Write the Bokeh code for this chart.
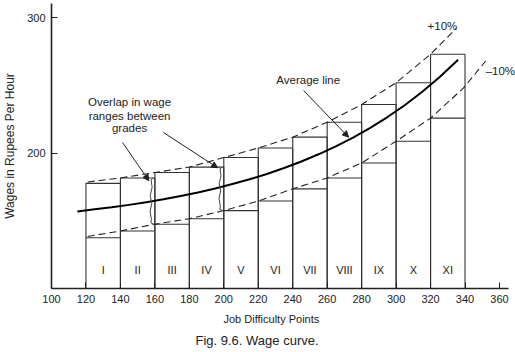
from bokeh.plotting import figure
from bokeh.models import Range1d, FixedTicker, Arrow, NormalHead, Title, Label
from bokeh.core.properties import value
from bokeh.embed import file_html
from bokeh.resources import INLINE

# ---- data ----
grades = ["I", "II", "III", "IV", "V", "VI", "VII", "VIII", "IX", "X", "XI"]
grade_left = [120, 140, 160, 180, 200, 220, 240, 260, 280, 300, 320]
grade_right = [140, 160, 180, 200, 220, 240, 260, 280, 300, 320, 340]
grade_max = [178, 182, 186, 190, 197, 204, 212, 223, 236, 252, 273]
grade_min = [138, 143, 148, 152, 158, 165, 174, 182, 193, 209, 226]

avg_x = [115, 125, 135, 145, 155, 165, 175, 185, 195, 205, 215, 225,
         235, 245, 255, 265, 275, 285, 295, 305, 315, 325, 336]
avg_y = [157.4, 158.9, 160.4, 162.2, 164.2, 166.3, 168.7, 171.3, 174.2, 177.5, 181.0, 184.9,
         189.3, 194.1, 199.4, 205.2, 211.7, 218.9, 226.8, 235.5, 245.2, 255.9, 269.0]

upper_x = [121, 140, 160, 180, 200, 220, 240, 260, 280, 300, 320, 335]
upper_y = [179, 182, 186, 190, 197, 204, 212, 223, 236, 252, 273, 292]

lower_x = [121, 140, 160, 180, 200, 220, 240, 260, 280, 300, 320, 339, 352]
lower_y = [139, 143, 148, 152, 158, 165, 174, 182, 193, 209, 226, 248, 268]

x_ticks = [100, 120, 140, 160, 180, 200, 220, 240, 260, 280, 300, 320, 340, 360]
y_ticks = [200, 300]

# overlap braces: between grade II/III and grade IV/V
brace_pairs = [(1, 2), (3, 4)]
brace_t = [0.0, 0.04, 0.2, 0.38, 0.55, 0.72, 0.9, 0.97, 1.0]
brace_dx = [1.6, 0.3, 0.9, -0.2, 0.7, -0.3, 0.5, 0.2, 1.8]

FONT = value("Liberation Sans")
INK = "#222222"

p = figure(frame_width=469, frame_height=285,
           x_range=Range1d(100, 372.2), y_range=Range1d(100.7, 310.3),
           output_backend="svg", toolbar_location=None,
           min_border_left=46, min_border_right=0,
           min_border_top=3, min_border_bottom=64)
p.outline_line_color = None
p.xgrid.visible = False
p.ygrid.visible = False
p.background_fill_color = "white"
p.border_fill_color = "white"

for ax in (p.xaxis[0], p.yaxis[0]):
    ax.axis_line_color = INK
    ax.axis_line_width = 1.6
    ax.major_tick_line_color = INK
    ax.major_tick_in = 6
    ax.major_tick_out = 0
    ax.minor_tick_line_color = None
    ax.major_label_text_font = "Liberation Sans"
    ax.major_label_text_font_size = "11px"
    ax.major_label_text_color = INK
    ax.axis_label_text_font = "Liberation Sans"
    ax.axis_label_text_font_style = "normal"
    ax.axis_label_text_color = INK

p.xaxis.bounds = (100, 365.2)
p.xaxis.ticker = FixedTicker(ticks=x_ticks)
p.yaxis.ticker = FixedTicker(ticks=y_ticks)
p.xaxis.major_label_standoff = 6
p.yaxis.axis_label = "Wages in Rupees Per Hour"
p.yaxis.axis_label_text_font_size = "12px"
p.yaxis.axis_label_standoff = 7
p.yaxis.major_label_standoff = 6

# grade boxes
p.quad(left=grade_left, right=grade_right, bottom=[100] * len(grades), top=grade_max,
       fill_color=None, line_color="#333333", line_width=1.1)
p.segment(x0=grade_left, x1=grade_right, y0=grade_min, y1=grade_min,
          line_color="#333333", line_width=1.1)

# +/-10% dashed lines and average line
p.line(upper_x, upper_y, line_color=INK, line_width=1.1, line_dash="7 4")
p.line(lower_x, lower_y, line_color=INK, line_width=1.1, line_dash="7 4")
p.line(avg_x, avg_y, line_color="black", line_width=2.0, line_join="round")

# overlap braces
for a, b in brace_pairs:
    top = grade_max[a]
    bot = grade_min[b]
    x0 = grade_right[a] - 2.5
    xs = [x0 + d for d in brace_dx]
    ys = [top - t * (top - bot) for t in brace_t]
    p.line(xs, ys, line_color="#444444", line_width=1)

# grade labels
p.text(x=[(l + r) / 2 for l, r in zip(grade_left, grade_right)], y=[114] * len(grades),
       text=grades, text_font=FONT, text_font_size=value("11px"),
       text_align="center", text_baseline="middle", text_color=INK)

# annotations
overlap_lines = ["Overlap in wage", "ranges between", "grades"]
p.text(x=[145.3] * 3, y=[237.5, 227.2, 218.4], text=overlap_lines, text_font=FONT,
       text_font_size=value("11.5px"), text_align="center", text_baseline="middle",
       text_color=INK)
p.text(x=[249.0], y=[253.7], text=["Average line"], text_font=FONT,
       text_font_size=value("11.5px"), text_align="center", text_baseline="middle",
       text_color=INK)
for lx, ly, lt in [(326.9, 294.1, "+10%"), (360.5, 261.0, "\u201310%")]:
    p.add_layout(Label(x=lx, y=ly, text=lt, text_font="Liberation Sans",
                       text_font_size="11.5px", text_align="center",
                       text_baseline="middle", text_color=INK))

for xs, ys, xe, ye in [(141.2, 208.1, 156.5, 180.0), (165.0, 215.4, 196.4, 189.5),
                       (246.3, 246.3, 272.4, 212.0)]:
    p.add_layout(Arrow(end=NormalHead(size=6, fill_color=INK, line_color=INK),
                       x_start=xs, y_start=ys, x_end=xe, y_end=ye,
                       line_color=INK, line_width=1))

xlabel = Title(text="Job Difficulty Points", align="left", offset=172, standoff=11,
               text_font="Liberation Sans", text_font_size="11px",
               text_font_style="normal", text_color=INK, text_line_height=1.0)
p.add_layout(xlabel, "below")
title = Title(text="Fig. 9.6. Wage curve.", align="left", offset=144, standoff=0,
              text_font="Liberation Sans", text_font_size="13px",
              text_font_style="normal", text_color=INK, text_line_height=1.0)
p.add_layout(title, "below")

open("out.html", "w").write(file_html(p, INLINE))
